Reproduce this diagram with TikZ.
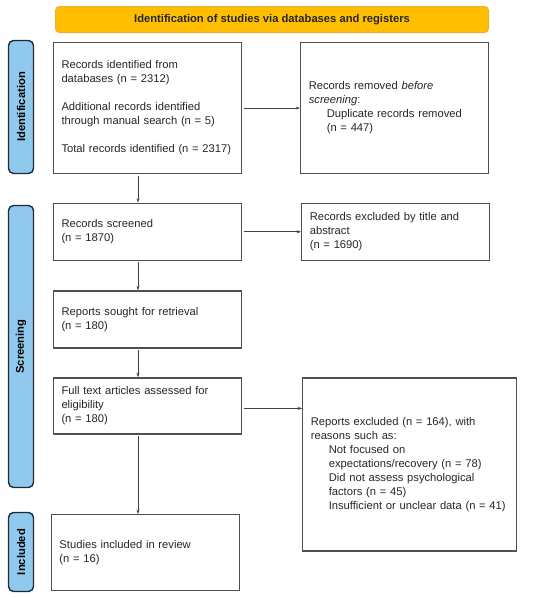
\documentclass[tikz,border=0pt]{standalone}
\usepackage{fontspec}
\setmainfont{Liberation Sans}
\usepackage{xcolor}
\usetikzlibrary{shapes,arrows,arrows.meta,positioning,calc}

\definecolor{bannerfill}{HTML}{FFBF00}
\definecolor{bannerline}{HTML}{F0AE30}
\definecolor{phasefill}{HTML}{90C8EE}
\definecolor{phaseline}{HTML}{1E2B38}
\definecolor{boxline}{HTML}{505050}

\begin{document}
\begin{tikzpicture}[x=1pt, y=1pt,
	font=\fontsize{11.2}{14}\selectfont,
	box/.style={rectangle, draw=boxline, line width=1.3pt, inner xsep=8pt, inner ysep=0pt, align=left, text=black!85},
	phase/.style={rectangle, rounded corners=5pt, draw=phaseline, fill=phasefill, line width=1.4pt, rotate=90, minimum height=25pt, inner sep=0pt, font=\fontsize{11.2}{14}\selectfont\bfseries},
	arr/.style={-{Stealth[length=4.5pt,width=3pt]}, line width=0.8pt, draw=black!75, shorten <=1.5pt}]
				\useasboundingbox (0,0) rectangle (550,-598);
				
				\node[rectangle, rounded corners=4pt, draw=bannerline, fill=bannerfill, line width=1pt, minimum width=433pt, minimum height=26pt, font=\fontsize{11.2}{14}\selectfont\bfseries, text=black!85] (head) at (272,-19.5) {Identification of studies via databases and registers};
				
				\node[phase, minimum width=133pt] (idlab) at (21,-107) {Identification};
				\node[phase, minimum width=282pt] (scrlab) at (21,-346.5) {Screening};
				\node[phase, minimum width=79pt] (inclab) at (21,-552) {Included};
				
				\node[box, text width=172pt, minimum height=131pt] (rec) at (147.5,-108) {Records identified from\\ databases (n = 2312)\\[14pt] Additional records identified\\ through manual search (n = 5)\\[14pt] Total records identified (n = 2317)};
				\node[box, text width=172pt, minimum height=131pt, right=58pt of rec] (rem) {Records removed \emph{before}\\ \emph{screening}:\\ \hspace*{18pt}Duplicate records removed\\ \hspace*{18pt}(n = 447)};
				\node[box, text width=172pt, minimum height=57pt, below=28.5pt of rec] (scr) {Records screened\\ (n = 1870)};
				\node[box, text width=172pt, minimum height=57pt, right=59pt of scr] (exc) {Records excluded by title and\\ abstract\\ (n = 1690)};
				\node[box, text width=172pt, minimum height=57pt, below=29.5pt of scr] (sought) {Reports sought for retrieval\\ (n = 180)};
				\node[box, text width=172pt, minimum height=56pt, below=28.5pt of sought] (full) {Full text articles assessed for\\ eligibility\\ (n = 180)};
				\node[box, text width=198pt, minimum height=173pt, right=60pt of full.north east, anchor=north west] (rexc) {Reports excluded (n = 164), with\\ reasons such as:\\ \hspace*{18pt}Not focused on\\ \hspace*{18pt}expectations/recovery (n = 78)\\ \hspace*{18pt}Did not assess psychological\\ \hspace*{18pt}factors (n = 45)\\ \hspace*{18pt}Insufficient or unclear data (n = 41)};
				\node[box, text width=172pt, minimum height=76pt, below=79.5pt of full, xshift=-2pt] (incl) {Studies included in review\\ (n = 16)};
				
				\draw[arr] (rec) -- (rem);
				\draw[arr] ([xshift=-9.5pt]rec.south) -- ([xshift=-9.5pt]scr.north);
				\draw[arr] (scr) -- (exc);
				\draw[arr] ([xshift=-9.5pt]scr.south) -- ([xshift=-9.5pt]sought.north);
				\draw[arr] ([xshift=-9.5pt]sought.south) -- ([xshift=-9.5pt]full.north);
				\draw[arr] ([yshift=-2.5pt]full.east) -- ([yshift=-2.5pt]full.east -| rexc.west);
				\draw[arr] ([xshift=-9.5pt]full.south) -- ([xshift=-9.5pt]full.south |- incl.north);
			\end{tikzpicture}
\end{document}
